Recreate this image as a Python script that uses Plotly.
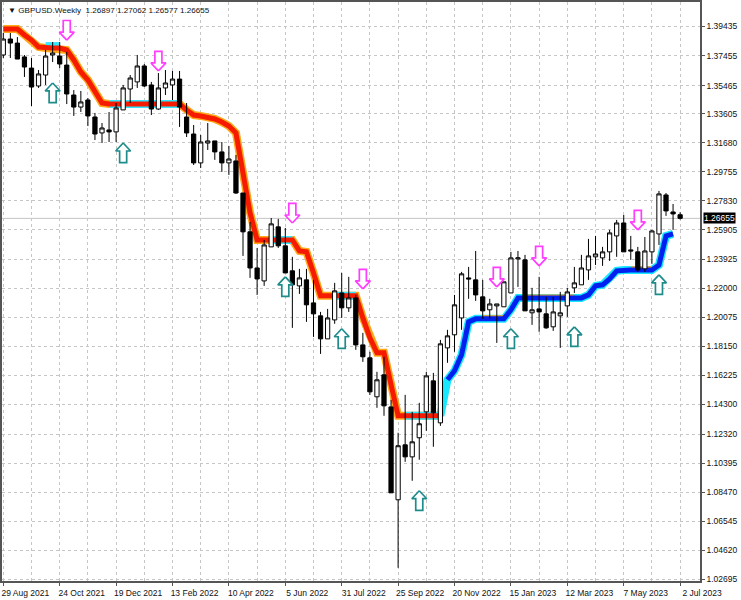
import plotly.graph_objects as go

# Candle index 0 is the week of 29 Aug 2021
opens = [1.3751,1.3857,1.3830,1.3738,1.3664,1.3545,1.3618,1.3751,1.3744,1.3684,
         1.3485,1.3405,1.3452,1.3339,1.3233,1.3253,1.3240,1.3386,1.3525,1.3572,
         1.3678,1.3552,1.3392,1.3532,1.3552,1.3591,1.3339,1.3226,1.3034,1.3166,
         1.3180,1.3107,1.3034,1.3047,1.2834,1.2576,1.2336,1.2250,1.2476,1.2609,
         1.2483,1.2317,1.2217,1.2257,1.2104,1.2018,1.1865,1.1991,1.2170,1.2071,
         1.2137,1.1825,1.1739,1.1480,1.1626,1.1413,1.0796,1.1161,1.1081,1.1208,
         1.1380,1.1586,1.1307,1.1805,1.1892,1.2004,1.2270,1.2257,1.2144,1.2058,
         1.2084,1.2078,1.2170,1.2396,1.2390,1.2038,1.2064,1.2031,1.1945,1.2018,
         1.2084,1.2204,1.2224,1.2323,1.2410,1.2403,1.2443,1.2549,1.2635,1.2456,
         1.2443,1.2330,1.2443,1.2562,1.2821,1.2708,1.26897]
highs = [1.3897,1.3897,1.3870,1.3751,1.3731,1.3651,1.3784,1.3837,1.3837,1.3771,
         1.3518,1.3512,1.3465,1.3366,1.3299,1.3372,1.3432,1.3552,1.3618,1.3751,
         1.3691,1.3572,1.3631,1.3651,1.3645,1.3645,1.3432,1.3286,1.3220,1.3299,
         1.3180,1.3173,1.3147,1.3087,1.2834,1.2642,1.2469,1.2522,1.2668,1.2662,
         1.2602,1.2410,1.2330,1.2330,1.2257,1.2044,1.2064,1.2237,1.2303,1.2277,
         1.2157,1.1905,1.1779,1.1646,1.1746,1.1460,1.1241,1.1493,1.1380,1.1440,
         1.1646,1.1639,1.1858,1.1925,1.2157,1.2310,1.2343,1.2449,1.2257,1.2131,
         1.2097,1.2244,1.2443,1.2449,1.2423,1.2204,1.2277,1.2144,1.2144,1.2177,
         1.2204,1.2343,1.2423,1.2529,1.2549,1.2476,1.2589,1.2655,1.2688,1.2549,
         1.2476,1.2542,1.2589,1.2848,1.2834,1.2761,1.27062]
lows = [1.3731,1.3731,1.3724,1.3605,1.3412,1.3532,1.3552,1.3704,1.3664,1.3425,
        1.3346,1.3372,1.3279,1.3186,1.3166,1.3173,1.3173,1.3386,1.3432,1.3532,
        1.3538,1.3352,1.3386,1.3485,1.3452,1.3273,1.3206,1.3020,1.3000,1.3120,
        1.3054,1.2974,1.2954,1.2828,1.2416,1.2270,1.2157,1.2217,1.2476,1.2469,
        1.2303,1.1938,1.2164,1.1978,1.1878,1.1765,1.1865,1.1965,1.2004,1.2044,
        1.1792,1.1712,1.1493,1.1407,1.1354,1.0842,1.0344,1.1048,1.0922,1.1062,
        1.1254,1.1148,1.1287,1.1706,1.1779,1.1925,1.2131,1.2117,1.1998,1.1998,
        1.1838,1.2078,1.2170,1.2210,1.2051,1.1958,1.1912,1.1932,1.1918,1.1805,
        1.2011,1.2170,1.2224,1.2257,1.2356,1.2350,1.2383,1.2410,1.2443,1.2390,
        1.2310,1.2310,1.2363,1.2489,1.2682,1.2589,1.26577]
closes = [1.3857,1.3830,1.3724,1.3671,1.3538,1.3625,1.3744,1.3764,1.3691,1.3492,
          1.3405,1.3439,1.3346,1.3226,1.3266,1.3240,1.3399,1.3532,1.3598,1.3678,
          1.3545,1.3392,1.3532,1.3565,1.3591,1.3405,1.3233,1.3034,1.3173,1.3180,
          1.3107,1.3034,1.3060,1.2834,1.2576,1.2336,1.2263,1.2489,1.2629,1.2483,
          1.2303,1.2224,1.2270,1.2091,1.2031,1.1865,1.2004,1.2184,1.2071,1.2137,
          1.1825,1.1746,1.1513,1.1593,1.1420,1.0842,1.1155,1.1081,1.1181,1.1301,
          1.1619,1.1374,1.1832,1.1885,1.2091,1.2297,1.2263,1.2157,1.2051,1.2097,
          1.2097,1.2244,1.2403,1.2403,1.2051,1.2058,1.2044,1.1938,1.2044,1.2038,
          1.2177,1.2237,1.2336,1.2416,1.2429,1.2443,1.2569,1.2635,1.2443,1.2449,
          1.2323,1.2449,1.2582,1.2828,1.2715,1.2695,1.26655]

# Trend band: falling section, then rising section
band_down = [1.3923,1.3923,1.3923,1.3884,1.3850,1.3804,1.3797,1.3797,1.3797,1.3784,
             1.3718,1.3638,1.3585,1.3505,1.3432,1.3425,1.3425,1.3425,1.3425,1.3425,
             1.3425,1.3425,1.3425,1.3425,1.3425,1.3425,1.3386,1.3352,1.3346,1.3339,
             1.3326,1.3306,1.3279,1.3233,1.2954,1.2702,1.2522,1.2522,1.2522,1.2522,
             1.2522,1.2522,1.2449,1.2443,1.2303,1.2151,1.2151,1.2151,1.2151,1.2151,
             1.2151,1.2004,1.1872,1.1772,1.1772,1.1560,1.1354,1.1354,1.1354,1.1354,
             1.1354,1.1354,1.1354]
band_up = [1.1354,1.1593,1.1653,1.1759,1.1978,1.1998,1.1998,1.1998,1.1998,1.1998,
           1.2058,1.2137,1.2137,1.2137,1.2137,1.2137,1.2137,1.2137,1.2137,1.2137,
           1.2137,1.2157,1.2217,1.2224,1.2263,1.2317,1.2323,1.2323,1.2323,1.2323,
           1.2323,1.2356,1.2549,1.2562]
band_up_start = 62

# Flat sections where the opposite colour shows behind the band
cyan_flats = [(6, 8, 1.3810), (15, 25, 1.3425), (38, 41, 1.2522), (47, 50, 1.2151), (57, 62, 1.1354)]
orange_flats = [(68, 71, 1.2012), (74, 81, 1.2150), (89, 92, 1.2337)]

down_arrow_k = [9, 22, 41, 51, 70, 76, 90]
down_arrow_tip = [1.3850, 1.3645, 1.2635, 1.2197, 1.2210, 1.2350, 1.2589]
up_arrow_k = [7, 17, 40, 48, 59, 72, 81, 93]
up_arrow_tip = [1.3565, 1.3166, 1.2277, 1.1932, 1.0856, 1.1932, 1.1945, 1.2290]

y_tick_vals = [1.39435,1.37455,1.35465,1.33605,1.31680,1.29755,1.27830,1.25905,1.23925,1.22000,
               1.20075,1.18150,1.16225,1.14300,1.12320,1.10395,1.08470,1.06545,1.04620,1.02695]
x_tick_vals = [0, 8, 16, 24, 32, 40, 48, 56, 64, 72, 80, 88, 96]
x_tick_text = ["29 Aug 2021","24 Oct 2021","19 Dec 2021","13 Feb 2022","10 Apr 2022","5 Jun 2022",
               "31 Jul 2022","25 Sep 2022","20 Nov 2022","15 Jan 2023","12 Mar 2023","7 May 2023","2 Jul 2023"]
x_grid_vals = list(range(0, 100, 4))

FONT = "Liberation Sans"
GRID = "#c6c6c6"
AXIS = "#555555"
k_all = list(range(len(closes)))
x_range = [-0.184, 98.82]
y_range = [1.02563, 1.41030]

fig = go.Figure()

def band(xs, ys, color, width, axes=("x", "y")):
    fig.add_trace(go.Scatter(x=xs, y=ys, mode="lines", line=dict(color=color, width=width, shape="linear"),
                             hoverinfo="skip", showlegend=False, xaxis=axes[0], yaxis=axes[1]))

down_k = list(range(len(band_down)))
up_k = [band_up_start + i for i in range(len(band_up))]

band(down_k, band_down, "#ffa91a", 8)
for a, b, level in cyan_flats:
    band([a, b], [level, level], "#33e6ff", 8)
band(up_k, band_up, "#19e6ff", 8)
for a, b, level in orange_flats:
    band([a, b], [level, level], "#ff9a1a", 3)
band(down_k, band_down, "#f51a00", 5)
band(up_k[1:], band_up[1:], "#0020f0", 5)

fig.add_trace(go.Candlestick(
    x=k_all, open=opens, high=highs, low=lows, close=closes, whiskerwidth=0,
    increasing=dict(line=dict(color="#000000", width=1), fillcolor="#ffffff"),
    decreasing=dict(line=dict(color="#000000", width=1), fillcolor="#000000"),
    xaxis="x2", yaxis="y2", showlegend=False, hoverinfo="skip"))

HEAD_K, SHAFT_K, HEAD_P, LEN_P = 1.06, 0.5, 0.0053, 0.0130

def arrow(k, tip, sign, color):
    xs = [k, k - HEAD_K, k - SHAFT_K, k - SHAFT_K, k + SHAFT_K, k + SHAFT_K, k + HEAD_K, k]
    ys = [tip, tip + sign * HEAD_P, tip + sign * HEAD_P, tip + sign * LEN_P,
          tip + sign * LEN_P, tip + sign * HEAD_P, tip + sign * HEAD_P, tip]
    fig.add_trace(go.Scatter(x=xs, y=ys, mode="lines", fill="toself", fillcolor="#ffffff",
                             line=dict(color=color, width=1.7), hoverinfo="skip", showlegend=False,
                             xaxis="x2", yaxis="y2"))

for k, tip in zip(down_arrow_k, down_arrow_tip):
    arrow(k, tip, 1, "#ff3dff")
for k, tip in zip(up_arrow_k, up_arrow_tip):
    arrow(k, tip, -1, "#1f8c8c")

fig.add_shape(type="line", xref="paper", x0=0, x1=1, yref="y", y0=closes[-1], y1=closes[-1],
              line=dict(color="#c4c4c4", width=1), layer="below")

fig.add_annotation(xref="paper", yref="y", x=1, y=closes[-1], xanchor="left", yanchor="middle", xshift=3,
                   text="1.26655", showarrow=False, bgcolor="#000000", borderpad=0,
                   font=dict(family=FONT, size=8.5, color="#ffffff"))
fig.add_annotation(xref="paper", yref="paper", x=0, y=1, xanchor="left", yanchor="top", xshift=4, yshift=-2,
                   text="▼ GBPUSD.Weekly  1.26897 1.27062 1.26577 1.26655", showarrow=False,
                   font=dict(family=FONT, size=8.1, color="#111111"))

fig.update_layout(
    width=741, height=600, margin=dict(l=0, r=41, t=0, b=19),
    paper_bgcolor="#ffffff", plot_bgcolor="#ffffff", showlegend=False,
    boxgap=0.25, boxgroupgap=0.2,
    font=dict(family=FONT, size=8.5, color="#111111"),
    xaxis=dict(range=x_range, tickmode="array", tickvals=x_tick_vals, ticktext=x_tick_text,
               showgrid=True, gridcolor=GRID, griddash="3px,3px", gridwidth=1,
               minor=dict(tickmode="array", tickvals=x_grid_vals, showgrid=True, gridcolor=GRID,
                          griddash="3px,3px", gridwidth=1, ticklen=0),
               ticks="outside", ticklen=3, tickcolor=AXIS, showline=True, linecolor=AXIS, linewidth=1.5,
               mirror=True, ticklabelshift=22, zeroline=False, rangeslider=dict(visible=False)),
    yaxis=dict(range=y_range, side="right", tickmode="array", tickvals=y_tick_vals,
               ticktext=[f"{v:.5f}" for v in y_tick_vals],
               showgrid=True, gridcolor=GRID, griddash="3px,3px", gridwidth=1,
               ticks="outside", ticklen=3, tickcolor=AXIS, showline=True, linecolor=AXIS, linewidth=1.5,
               mirror=True, zeroline=False),
    xaxis2=dict(range=x_range, overlaying="x", visible=False, rangeslider=dict(visible=False)),
    yaxis2=dict(range=y_range, overlaying="y", visible=False),
)

fig.write_html("out.html", config={"displayModeBar": False}, post_script="document.body.style.margin='0';")
